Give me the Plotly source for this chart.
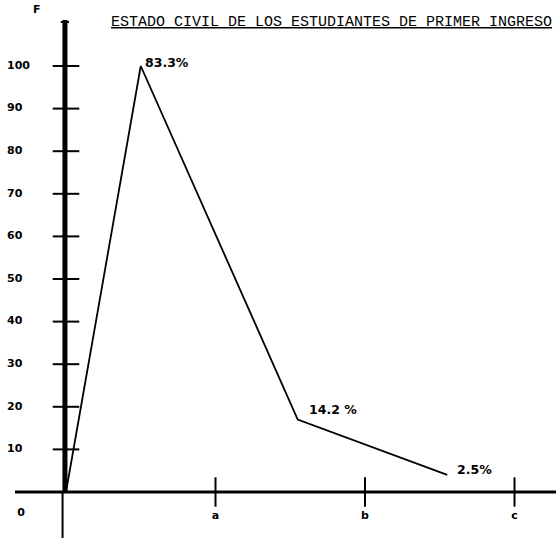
import plotly.graph_objects as go

# ---- data ----
categories = ["a", "b", "c"]
category_pos = [1, 2, 3]
freq_x = [0, 0.5, 1.55, 2.55]
freq_y = [0, 100, 17, 4]
pct_labels = ["83.3%", "14.2 %", "2.5%"]
y_ticks = [10, 20, 30, 40, 50, 60, 70, 80, 90, 100]
y_tick_labels = ["10", "20", "30", "40", "50", "60", "70", "80", "90", "100"]
title = "ESTADO CIVIL DE LOS ESTUDIANTES DE PRIMER INGRESO"

W, H = 556, 538
px_unit_x = 149.5
x0_px = 66
y0_px = 492
px_unit_y = 4.26
xr = [-x0_px / px_unit_x, (W - x0_px) / px_unit_x]
yr = [-(H - y0_px) / px_unit_y, y0_px / px_unit_y]

lab_font = dict(family="DejaVu Sans", size=11, color="black")
pct_font = dict(family="DejaVu Sans", size=12.5, color="black")

fig = go.Figure()

# frequency polygon
fig.add_trace(go.Scatter(x=freq_x, y=freq_y, mode="lines",
                         line=dict(color="black", width=1.8),
                         hoverinfo="skip", showlegend=False))

# y-axis tick marks
fig.add_trace(go.Scatter(x=[0] * len(y_ticks), y=y_ticks, mode="markers",
                         marker=dict(symbol="line-ew", size=19,
                                     line=dict(color="black", width=2)),
                         hoverinfo="skip", showlegend=False))
# x-axis tick marks
fig.add_trace(go.Scatter(x=category_pos, y=[0] * len(category_pos), mode="markers",
                         marker=dict(symbol="line-ns", size=21,
                                     line=dict(color="black", width=2)),
                         hoverinfo="skip", showlegend=False))

# y tick labels
fig.add_trace(go.Scatter(x=[xr[0] + 7 / px_unit_x] * len(y_ticks), y=y_ticks,
                         mode="text", text=[f"<b>{t}</b>" for t in y_tick_labels],
                         textposition="middle right", textfont=lab_font,
                         hoverinfo="skip", showlegend=False))
# zero label
fig.add_trace(go.Scatter(x=[xr[0] + 21 / px_unit_x], y=[-21 / px_unit_y],
                         mode="text", text=["<b>0</b>"], textposition="middle center",
                         textfont=lab_font, hoverinfo="skip", showlegend=False))
# x category labels
fig.add_trace(go.Scatter(x=category_pos, y=[-24 / px_unit_y] * len(category_pos),
                         mode="text", text=[f"<b>{c}</b>" for c in categories],
                         textposition="middle center", textfont=lab_font,
                         hoverinfo="skip", showlegend=False))

shapes = [
    dict(type="line", xref="x", yref="y", x0=-0.007, x1=-0.007,
         y0=0, y1=(y0_px - 20) / px_unit_y, line=dict(color="black", width=5)),
    dict(type="line", xref="x", yref="y", x0=-0.023, x1=-0.023,
         y0=0, y1=yr[0], line=dict(color="black", width=2)),
    dict(type="line", xref="x", yref="y", x0=xr[0] + 15 / px_unit_x, x1=xr[1],
         y0=0, y1=0, line=dict(color="black", width=3)),
    dict(type="line", xref="x", yref="y", x0=-0.035, x1=0.02,
         y0=(y0_px - 22) / px_unit_y, y1=(y0_px - 22) / px_unit_y,
         line=dict(color="black", width=2)),
]

shifts = [(2, 4), (9, 10), (8, 5)]
annotations = [
    dict(text=f"<u>{title}</u>", xref="paper", yref="paper",
         x=109 / W, y=1 - 22 / H, xanchor="left", yanchor="middle",
         showarrow=False,
         font=dict(family="Liberation Mono", size=15, color="black")),
    dict(text="<b>F</b>", xref="paper", yref="paper",
         x=37 / W, y=1 - 9 / H, xanchor="center", yanchor="middle",
         showarrow=False, font=lab_font),
]
for xv, yv, lab, (dx, dy) in zip(freq_x[1:], freq_y[1:], pct_labels, shifts):
    annotations.append(dict(text=f"<b>{lab}</b>", x=xv, y=yv, xref="x", yref="y",
                            xanchor="left", yanchor="middle", xshift=dx, yshift=dy,
                            showarrow=False, font=pct_font))

fig.update_layout(
    width=W, height=H,
    margin=dict(l=0, r=0, t=0, b=0),
    paper_bgcolor="white", plot_bgcolor="white",
    xaxis=dict(range=xr, visible=False, fixedrange=True),
    yaxis=dict(range=yr, visible=False, fixedrange=True),
    shapes=shapes,
    annotations=annotations,
)

fig.write_html("out.html", config={"displayModeBar": False},
               post_script="document.body.style.margin='0';document.body.style.overflow='hidden';")
